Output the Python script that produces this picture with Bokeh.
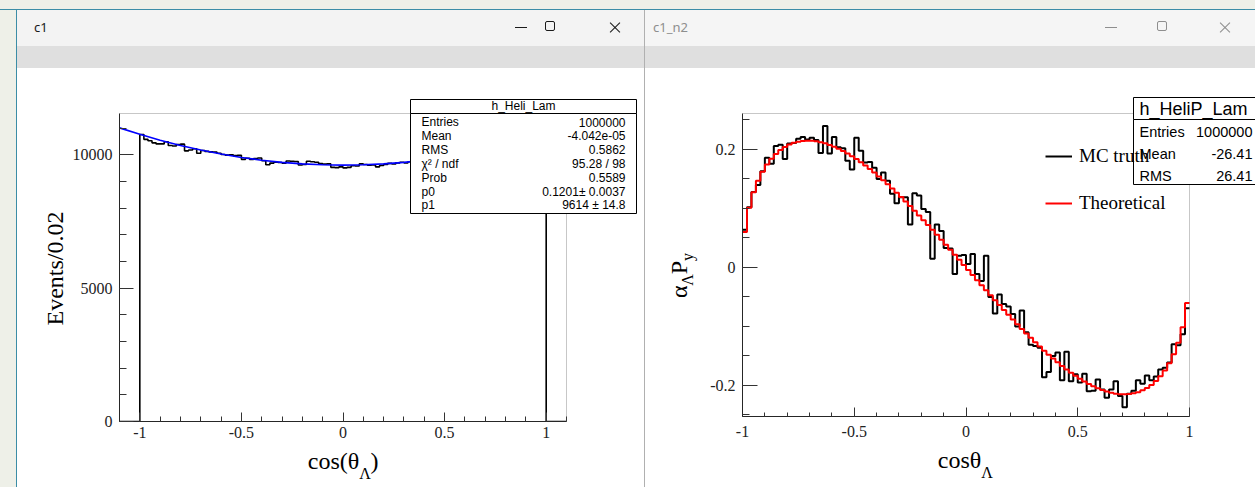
import math
from bokeh.plotting import figure
from bokeh.models import (Range1d, SingleIntervalTicker, NumeralTickFormatter, Label,
                          BoxAnnotation, Legend, LegendItem, Div, LinearAxis, FixedTicker)
from bokeh.layouts import row, column
from bokeh.embed import file_html
from bokeh.resources import INLINE

# ----------------------------- data -----------------------------
# left canvas "c1": histogram h_Heli_Lam, bins of 0.02 on [-1.1, 1.1]
heli_x_range = [-1.1, 1.1]
heli_y_range = [0, 11550]
heli_bin_width = 0.02
heli_counts = [
    0, 0, 0, 0, 0,
    10760, 10580, 10530, 10450, 10410, 10410, 10490, 10350, 10330, 10390,
    10400, 10150, 10180, 10230, 10060, 10160, 10130, 10110, 10100, 10060,
    10010, 9990, 10000, 9970, 9980, 9830, 9870, 9830, 9860, 9880,
    9780, 9630, 9690, 9720, 9710, 9690, 9770, 9760, 9750, 9620,
    9640, 9760, 9740, 9720, 9670, 9650, 9660, 9530, 9520, 9550,
    9510, 9530, 9590, 9580, 9660, 9640, 9610, 9620, 9550, 9600,
    9640, 9680, 9660, 9700, 9720, 9700, 9740, 9740, 9790, 9760,
    9820, 9800, 9850, 9890, 9860, 9930, 9900, 9960, 10010, 9990,
    10060, 10030, 10090, 10140, 10120, 10210, 10190, 10260, 10300, 10280,
    10390, 10360, 10450, 10480, 10500, 10590, 10560, 10650, 10700, 10760,
    0, 0, 0, 0, 0,
]
# fitted curve (blue)
heli_fit_x = [-1.1, -1.0, -0.9, -0.8, -0.7, -0.6, -0.5, -0.4, -0.3, -0.2, -0.1, 0.0,
              0.1, 0.2, 0.3, 0.4, 0.5, 0.6, 0.7, 0.8, 0.9, 1.0, 1.1]
heli_fit_y = [11011, 10769, 10549, 10353, 10180, 10030, 9903, 9799, 9718, 9660, 9626, 9614,
              9626, 9660, 9718, 9799, 9903, 10030, 10180, 10353, 10549, 10769, 11011]
heli_y_title = "Events/0.02"
heli_x_title = ["cos(\u03b8", "\u039b", ")"]
heli_stat_title = "h_Heli_Lam"
heli_stat_names = ["Entries", "Mean", "RMS", "\u03c7\u00b2 / ndf", "Prob", "p0", "p1"]
heli_stat_values = ["1000000", "-4.042e-05", "0.5862", "95.28 / 98", "0.5589",
                    "0.1201\u00b1 0.0037", "9614 \u00b1 14.8"]

# right canvas "c1_n2": h_HeliP_Lam, bins of 0.02 on [-1, 1]
helip_x_range = [-1.0, 1.0]
helip_y_range = [-0.2526, 0.261]
helip_bin_width = 0.02
mc_truth = [
    0.064, 0.102, 0.128, 0.140, 0.163, 0.186, 0.176, 0.206, 0.208, 0.184,
    0.210, 0.211, 0.218, 0.221, 0.217, 0.220, 0.216, 0.194, 0.240, 0.193,
    0.221, 0.204, 0.202, 0.181, 0.166, 0.220, 0.198, 0.178, 0.179, 0.169,
    0.150, 0.161, 0.147, 0.125, 0.109, 0.119, 0.119, 0.073, 0.126, 0.122,
    0.099, 0.094, 0.015, 0.073, 0.062, 0.033, 0.032, -0.011, 0.020, 0.021,
    0.006, 0.023, -0.011, -0.023, 0.020, -0.050, -0.078, -0.046, -0.062, -0.066,
    -0.079, -0.100, -0.073, -0.110, -0.131, -0.133, -0.136, -0.186, -0.177, -0.150,
    -0.144, -0.191, -0.143, -0.193, -0.181, -0.195, -0.180, -0.210, -0.209, -0.190,
    -0.207, -0.221, -0.207, -0.193, -0.218, -0.237, -0.214, -0.209, -0.191, -0.197,
    -0.183, -0.191, -0.185, -0.173, -0.170, -0.161, -0.130, -0.132, -0.113, -0.069,
]
theoretical = [
    0.0601, 0.1014, 0.1276, 0.1470, 0.1622, 0.1745, 0.1844, 0.1925, 0.1991, 0.2043,
    0.2083, 0.2113, 0.2133, 0.2145, 0.2150, 0.2148, 0.2139, 0.2124, 0.2104, 0.2078,
    0.2048, 0.2014, 0.1975, 0.1933, 0.1886, 0.1837, 0.1784, 0.1728, 0.1669, 0.1608,
    0.1544, 0.1478, 0.1410, 0.1340, 0.1267, 0.1193, 0.1118, 0.1041, 0.0962, 0.0883,
    0.0802, 0.0720, 0.0638, 0.0554, 0.0470, 0.0385, 0.0300, 0.0215, 0.0129, 0.0043,
    -0.0043, -0.0129, -0.0215, -0.0300, -0.0385, -0.0470, -0.0554, -0.0638, -0.0720, -0.0802,
    -0.0883, -0.0962, -0.1041, -0.1118, -0.1193, -0.1267, -0.1340, -0.1410, -0.1478, -0.1544,
    -0.1608, -0.1669, -0.1728, -0.1784, -0.1837, -0.1886, -0.1933, -0.1975, -0.2014, -0.2048,
    -0.2078, -0.2104, -0.2124, -0.2139, -0.2148, -0.2150, -0.2145, -0.2133, -0.2113, -0.2083,
    -0.2043, -0.1991, -0.1925, -0.1844, -0.1745, -0.1622, -0.1470, -0.1276, -0.1014, -0.0601,
]
legend_labels = ["MC truth", "Theoretical"]
helip_x_title = ["cos\u03b8", "\u039b"]
helip_y_title = ["\u03b1", "\u039b", "P", "y"]
helip_stat_title = "h_HeliP_Lam"
helip_stat_names = ["Entries", "Mean", "RMS"]
helip_stat_values = ["1000000", "-26.41", "26.41"]

# ----------------------------- helpers -----------------------------
SERIF = "Liberation Serif"
SANS = "Liberation Sans"
DESK = "#eef0e8"
ACCENT = "#3b8da6"


def step_xy(lo, w, vals):
    xs = [lo + i * w for i in range(len(vals) + 1)]
    ys = list(vals) + [vals[-1]]
    return xs, ys


def put_text(p, fl, fb, X, Y, text, font, size, align="left", baseline="middle", color="black"):
    p.add_layout(Label(x=X - fl, y=fb - Y, x_units="screen", y_units="screen", text=text,
                       text_font=font, text_font_size=size, text_align=align,
                       text_baseline=baseline, text_color=color))


def put_box(p, fl, fb, L, R, T, B):
    p.add_layout(BoxAnnotation(left=L - fl, right=R - fl, top=fb - T, bottom=fb - B,
                               left_units="screen", right_units="screen",
                               top_units="screen", bottom_units="screen",
                               fill_color="white", fill_alpha=1.0,
                               line_color="black", line_alpha=1.0, line_width=1))


def style_main_axes(p, xr, yr, xint, xminor, yint, yminor, xfmt, yfmt,
                    xin, xmin_in, yin, ymin_in, xstand, ystand):
    xa, ya = p.xaxis[0], p.yaxis[0]
    xa.ticker = SingleIntervalTicker(interval=xint, num_minor_ticks=xminor)
    ya.ticker = SingleIntervalTicker(interval=yint, num_minor_ticks=yminor)
    xa.formatter = NumeralTickFormatter(format=xfmt)
    ya.formatter = NumeralTickFormatter(format=yfmt)
    xa.bounds = tuple(xr)
    ya.bounds = tuple(yr)
    for ax, tin, tmin, st in ((xa, xin, xmin_in, xstand), (ya, yin, ymin_in, ystand)):
        ax.major_tick_in = tin
        ax.major_tick_out = 0
        ax.minor_tick_in = tmin
        ax.minor_tick_out = 0
        ax.major_tick_line_color = "#333333"
        ax.minor_tick_line_color = "#333333"
        ax.axis_line_color = "#222222"
        ax.major_label_text_font = SERIF
        ax.major_label_text_font_size = "16px"
        ax.major_label_text_color = "#222222"
        ax.major_label_standoff = st
    p.grid.visible = False
    p.outline_line_color = None
    p.background_fill_color = "white"
    p.border_fill_color = "white"
    # the ROOT frame box
    p.add_layout(BoxAnnotation(left=xr[0], right=xr[1], bottom=yr[0], top=yr[1],
                               fill_alpha=0.0, line_color="#444444", line_width=1))


def title_axis(p, side, ticks, labels, size, standoff, angle=None):
    ax = LinearAxis(ticker=FixedTicker(ticks=list(ticks), minor_ticks=[]),
                    major_label_overrides={float(t): s for t, s in zip(ticks, labels)})
    ax.axis_line_color = None
    ax.major_tick_line_color = None
    ax.minor_tick_line_color = None
    ax.major_tick_in = 0
    ax.major_tick_out = 0
    ax.minor_tick_in = 0
    ax.minor_tick_out = 0
    ax.major_label_standoff = standoff
    ax.major_label_text_font = SERIF
    ax.major_label_text_font_size = size
    ax.major_label_text_color = "black"
    if angle is not None:
        ax.major_label_orientation = angle
    p.add_layout(ax, side)


# ----------------------------- left canvas -----------------------------
FL1, FR1, FT1, FB1 = 119, 566, 113, 421      # ROOT frame, page pixels
CX1, CY1, CW1, CH1 = 17, 68, 627, 419        # canvas
KX1 = (FR1 - FL1) / (heli_x_range[1] - heli_x_range[0])
KY1 = (FB1 - FT1) / (heli_y_range[1] - heli_y_range[0])
x1_end = heli_x_range[1] + (CX1 + CW1 - FR1) / KX1
y1_end = heli_y_range[1] + (FT1 - CY1) / KY1
px1 = lambda X: heli_x_range[0] + (X - FL1) / KX1
py1 = lambda Y: heli_y_range[0] + (FB1 - Y) / KY1

p1 = figure(width=CW1, height=CH1, x_range=Range1d(heli_x_range[0], x1_end),
            y_range=Range1d(heli_y_range[0], y1_end), title=None,
            toolbar_location=None, output_backend="svg",
            min_border_left=FL1 - CX1, min_border_right=0, min_border_top=0,
            min_border_bottom=CY1 + CH1 - FB1)
style_main_axes(p1, heli_x_range, heli_y_range, 0.5, 5, 5000, 5, "0.[0]", "0",
                9, 5, 14, 7, 5, 7)

hx, hy = step_xy(heli_x_range[0], heli_bin_width, heli_counts)
p1.step(hx, hy, mode="after", line_color="black", line_width=1.6)
p1.line(heli_fit_x, heli_fit_y, line_color="#0000ff", line_width=1.6)

# axis titles (rotated tick labels end at their tick)
title_axis(p1, "below", [px1(333), px1(374)], [heli_x_title[0], heli_x_title[2]], "24px", 7)
title_axis(p1, "below", [px1(364.6)], [heli_x_title[1]], "16px", -12)
title_axis(p1, "left", [py1(211)], [heli_y_title], "24px", 15, angle=math.pi / 2)

# stats box
put_box(p1, FL1, FB1, 410, 636, 99, 113)
put_box(p1, FL1, FB1, 410, 636, 113, 213)
put_text(p1, FL1, FB1, 523, 105, heli_stat_title, SANS, "12px", align="center")
for i, (nm, vl) in enumerate(zip(heli_stat_names, heli_stat_values)):
    yy = 121.5 + 13.9 * i
    put_text(p1, FL1, FB1, 421, yy, nm, SANS, "12px", align="left")
    put_text(p1, FL1, FB1, 625, yy, vl, SANS, "12px", align="right")

# ----------------------------- right canvas -----------------------------
FL2, FR2, FT2, FB2 = 742, 1189, 113, 416
CX2, CY2, CW2, CH2 = 645, 68, 610, 419
KX2 = (FR2 - FL2) / (helip_x_range[1] - helip_x_range[0])
KY2 = (FB2 - FT2) / (helip_y_range[1] - helip_y_range[0])
x2_end = helip_x_range[1] + (CX2 + CW2 - FR2) / KX2
y2_end = helip_y_range[1] + (FT2 - CY2) / KY2
px2 = lambda X: helip_x_range[0] + (X - FL2) / KX2
py2 = lambda Y: helip_y_range[0] + (FB2 - Y) / KY2

p2 = figure(width=CW2, height=CH2, x_range=Range1d(helip_x_range[0], x2_end),
            y_range=Range1d(helip_y_range[0], y2_end), title=None,
            toolbar_location=None, output_backend="svg",
            min_border_left=FL2 - CX2, min_border_right=0, min_border_top=0,
            min_border_bottom=CY2 + CH2 - FB2)
style_main_axes(p2, helip_x_range, helip_y_range, 0.5, 5, 0.2, 4, "0.[0]", "0.[0]",
                9, 4, 15, 7, 9, 7)

mx, my = step_xy(helip_x_range[0], helip_bin_width, mc_truth)
r_mc = p2.step(mx, my, mode="after", line_color="black", line_width=2)
tx, ty = step_xy(helip_x_range[0], helip_bin_width, theoretical)
r_th = p2.step(tx, ty, mode="after", line_color="#ff0000", line_width=2)

legend = Legend(items=[LegendItem(label=legend_labels[0], renderers=[r_mc]),
                       LegendItem(label=legend_labels[1], renderers=[r_th])],
                location=(1045 - FL2, FB2 - 214), label_text_font=SERIF,
                label_text_font_size="19px", label_text_color="black",
                glyph_width=27, glyph_height=22, label_height=22,
                spacing=25, padding=0, margin=0, label_standoff=7,
                border_line_color=None, background_fill_alpha=0.0)
p2.add_layout(legend)

# axis titles
title_axis(p2, "below", [px2(959)], [helip_x_title[0]], "24px", 7)
title_axis(p2, "below", [px2(986.6)], [helip_x_title[1]], "16px", -12)
title_axis(p2, "left", [py2(273.7), py2(252.4)], [helip_y_title[1], helip_y_title[3]],
           "16px", 20, angle=math.pi / 2)
title_axis(p2, "left", [py2(284.9), py2(260.4)], [helip_y_title[0], helip_y_title[2]],
           "24px", -12, angle=math.pi / 2)

# stats box (runs past the window edge)
put_box(p2, FL2, FB2, 1133, 1275, 97, 119)
put_box(p2, FL2, FB2, 1133, 1275, 119, 184)
put_text(p2, FL2, FB2, 1139, 108.5, helip_stat_title, SANS, "18px", align="left")
for i, (nm, vl) in enumerate(zip(helip_stat_names, helip_stat_values)):
    yy = 131 + 22 * i
    put_text(p2, FL2, FB2, 1139, yy, nm, SANS, "14.5px", align="left")
    put_text(p2, FL2, FB2, 1252, yy, vl, SANS, "14.5px", align="right")

# ----------------------------- window chrome -----------------------------
def title_html(w, name, color, name_x, xs):
    mn, mx_, cl = xs
    return (
        f'<div style="position:relative;width:{w}px;height:36px;overflow:hidden;'
        f'font-family:\'Noto Sans\',sans-serif;">'
        f'<span style="position:absolute;left:{name_x}px;top:8px;font-size:13px;line-height:18px;color:{color};">{name}</span>'
        f'<div style="position:absolute;left:{mn-6}px;top:17px;width:12px;height:1px;background:{color};"></div>'
        f'<div style="position:absolute;left:{mx_-6}px;top:11px;width:10px;height:10px;border:1px solid {color};border-radius:2px;"></div>'
        f'<div style="position:absolute;left:{cl-7}px;top:17px;width:14px;height:1px;background:{color};transform:rotate(45deg);"></div>'
        f'<div style="position:absolute;left:{cl-7}px;top:17px;width:14px;height:1px;background:{color};transform:rotate(-45deg);"></div>'
        '</div>'
    )


top_strip = Div(width=1255, height=10, text="", margin=0,
                styles={"background": f"linear-gradient(to bottom, {DESK} 0px, {DESK} 9px, {ACCENT} 9px)"})
left_pad = Div(width=17, height=477, text="", margin=0,
               styles={"background": f"linear-gradient(to right, {DESK} 0px, {DESK} 16px, {ACCENT} 16px)"})
t1 = Div(width=627, height=36, text=title_html(627, "c1", "#1a1a1a", 17, (504, 534, 598)),
         margin=0, styles={"background": "#f3f3f3"})
s1 = Div(width=627, height=22, text="", margin=0, styles={"background": "#dfdfdf"})
sep = Div(width=1, height=477, text="", margin=0, styles={"background": "#b0b0b0"})
t2 = Div(width=610, height=36, text=title_html(610, "c1_n2", "#8e8e8e", 8, (466, 518, 580)),
         margin=0, styles={"background": "#f5f5f5"})
s2 = Div(width=610, height=22, text="", margin=0, styles={"background": "#dfdfdf"})

layout = column(top_strip,
                row(left_pad, column(t1, s1, p1, spacing=0), sep, column(t2, s2, p2, spacing=0),
                    spacing=0),
                spacing=0)

open("out.html", "w").write(file_html(layout, INLINE, "c1"))
